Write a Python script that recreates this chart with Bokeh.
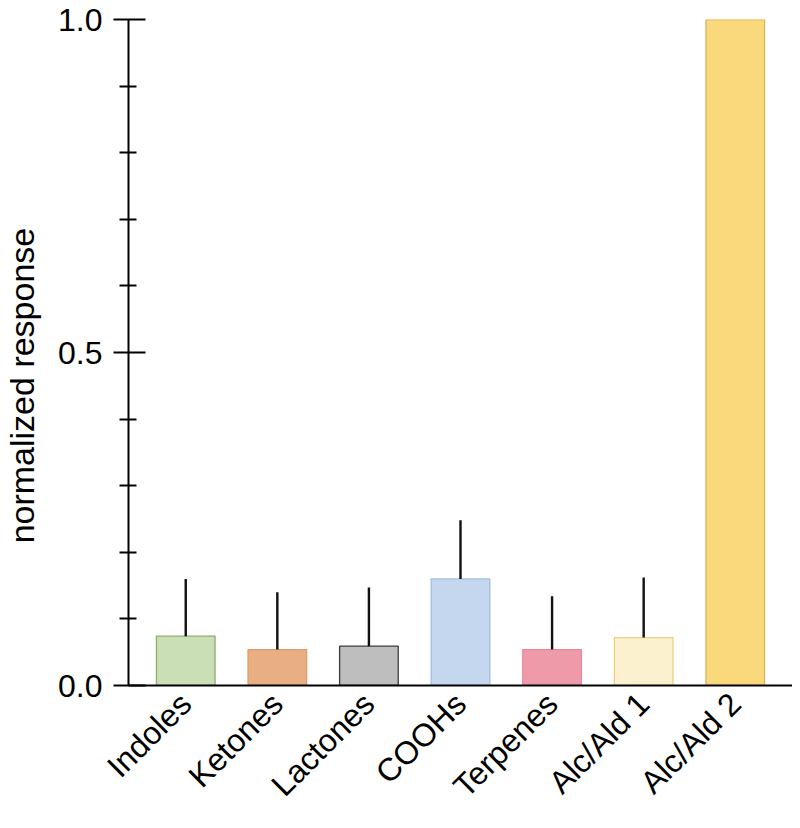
import math
from bokeh.plotting import figure
from bokeh.models import (FactorRange, FixedTicker, ColumnDataSource, Range1d,
                          NumeralTickFormatter)
from bokeh.embed import file_html
from bokeh.resources import INLINE

# ---- data ----
categories = ["Indoles", "Ketones", "Lactones", "COOHs", "Terpenes", "Alc/Ald 1", "Alc/Ald 2"]
response = [0.074, 0.054, 0.059, 0.160, 0.054, 0.072, 1.0]
error = [0.086, 0.086, 0.088, 0.088, 0.080, 0.090, 0.0]
y_major_ticks = [0.0, 0.5, 1.0]
y_minor_ticks = [0.1, 0.2, 0.3, 0.4, 0.6, 0.7, 0.8, 0.9]
y_title = "normalized response"

# ---- styles ----
fill_colors = ["#cadfb6", "#e9ae82", "#bebebe", "#c4d7ee", "#ef9aa9", "#fcf1cf", "#f9d97b"]
line_colors = ["#8ab06a", "#e09b6a", "#3a3a3a", "#a3bde3", "#e78a9b", "#f0cf7a", "#d9b45e"]
FONT = "Liberation Sans"

upper = [r + e for r, e in zip(response, error)]
src = ColumnDataSource(dict(cat=categories, response=response, upper=upper,
                            fill=fill_colors, line=line_colors))

p = figure(width=792, height=820, output_backend="svg", toolbar_location=None,
           x_range=FactorRange(factors=categories, range_padding=0.25 / 7),
           y_range=Range1d(0, 1.0))
p.min_border_left = 126
p.min_border_right = 0
p.min_border_top = 19
p.min_border_bottom = 5
p.outline_line_color = None
p.xgrid.grid_line_color = None
p.ygrid.grid_line_color = None
p.background_fill_color = "white"
p.border_fill_color = "white"

p.vbar(x="cat", top="response", width=0.64, source=src,
       fill_color="fill", line_color="line", line_width=1.3)
p.segment(x0="cat", y0="response", x1="cat", y1="upper", source=src,
          line_color="#111111", line_width=2.4)

# y axis
ya = p.yaxis[0]
ya.ticker = FixedTicker(ticks=y_major_ticks, minor_ticks=y_minor_ticks)
ya.formatter = NumeralTickFormatter(format="0.0")
ya.axis_line_width = 2
ya.axis_line_color = "black"
ya.major_tick_line_width = 2
ya.minor_tick_line_width = 2
ya.major_tick_line_color = "black"
ya.minor_tick_line_color = "black"
ya.major_tick_out = 15
ya.major_tick_in = 17
ya.minor_tick_out = 9
ya.minor_tick_in = 8
ya.major_label_standoff = 11
ya.major_label_text_font = FONT
ya.major_label_text_font_size = "32px"
ya.major_label_text_color = "black"
ya.axis_label = y_title + "\u00a0" * 7
ya.axis_label_text_font = FONT
ya.axis_label_text_font_size = "34px"
ya.axis_label_text_font_style = "normal"
ya.axis_label_text_color = "black"
ya.axis_label_standoff = 14

# x axis
xa = p.xaxis[0]
xa.axis_line_width = 2
xa.axis_line_color = "black"
xa.major_tick_line_color = None
xa.minor_tick_line_color = None
xa.major_label_orientation = math.pi / 4
xa.major_label_standoff = 7
xa.major_label_text_font = FONT
xa.major_label_text_font_size = "32px"
xa.major_label_text_color = "black"

open("out.html", "w").write(file_html(p, INLINE))
